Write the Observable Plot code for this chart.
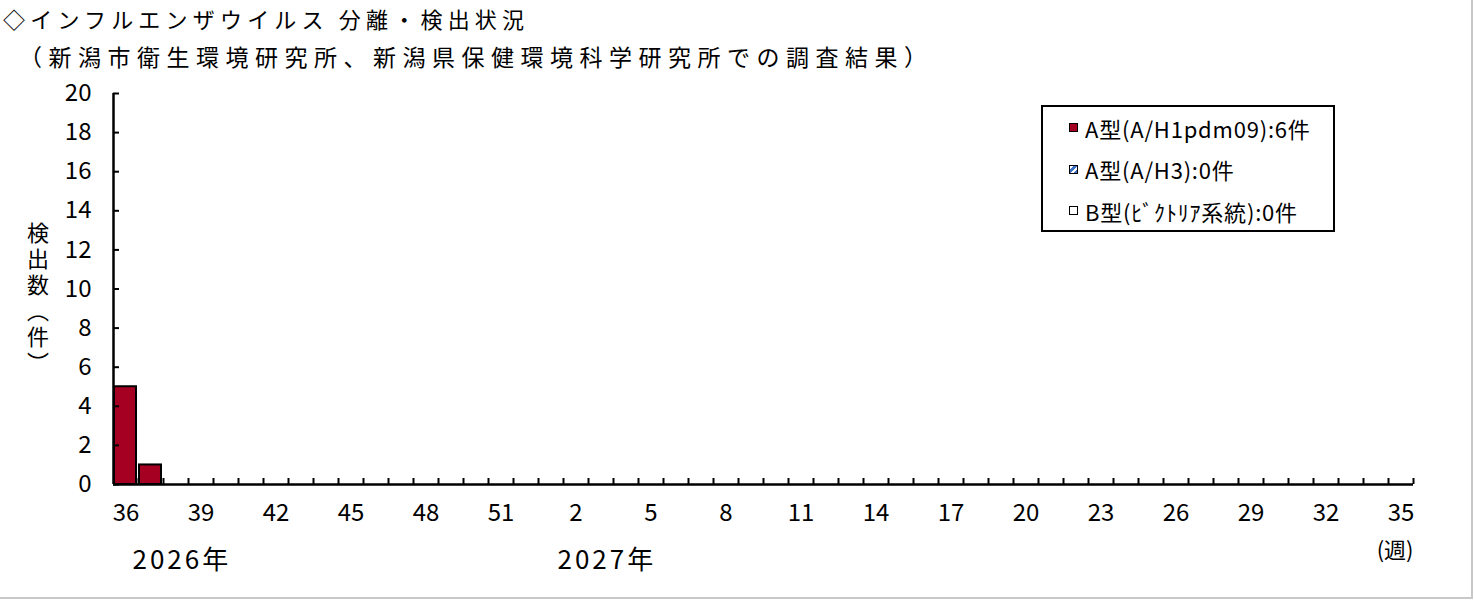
<!DOCTYPE html>
<html><head><meta charset="utf-8">
<script src="https://cdn.jsdelivr.net/npm/d3@7"></script>
<script src="https://cdn.jsdelivr.net/npm/@observablehq/plot@0.6"></script>
<style>
body{margin:0;background:#fff;font-family:"Noto Sans CJK JP",sans-serif;color:#000;}
#wrap{position:relative;width:1471px;height:597px;border-right:2px solid #c8c8c8;border-bottom:2px solid #c8c8c8;background:#fff;overflow:hidden}
.t1{height:36px;line-height:36px;font-size:22px;letter-spacing:5.2px;padding-left:3px;white-space:nowrap}
.t2{height:42px;line-height:40px;font-size:23px;letter-spacing:6.5px;padding-left:19px;white-space:nowrap}
#ylab{position:absolute;left:27px;top:222px;width:22px;writing-mode:vertical-rl;font-size:22px;line-height:22px;letter-spacing:4px}
#legend{position:absolute;left:1041px;top:105px;width:290px;height:123px;border:2px solid #000;background:#fff;padding-top:0px;box-sizing:content-box}
.row{height:41.5px;display:flex;align-items:center;padding-left:26px;font-size:22px;letter-spacing:0.8px;white-space:nowrap}
.mk{width:7px;height:7px;border:1.5px solid #000;margin-right:7px;flex:none}
#chart svg{display:block}
.years text{letter-spacing:3px}
</style></head>
<body>
<div id="wrap">
  <div class="t1">◇インフルエンザウイルス 分離・検出状況</div>
  <div class="t2">（新潟市衛生環境研究所、新潟県保健環境科学研究所での調査結果）</div>
  <div id="chart"></div>
  <div id="ylab">検出数（件）</div>
  <div id="legend"></div>
</div>
<script>
const weeks = [36,37,38,39,40,41,42,43,44,45,46,47,48,49,50,51,52,1,2,3,4,5,6,7,8,9,10,11,12,13,14,15,16,17,18,19,20,21,22,23,24,25,26,27,28,29,30,31,32,33,34,35];
const seriesNames = ["A型(A/H1pdm09)", "A型(A/H3)", "B型(ﾋﾞｸﾄﾘｱ系統)"];
const countsH1 = [5,1,0,0,0,0,0,0,0,0,0,0,0,0,0,0,0,0,0,0,0,0,0,0,0,0,0,0,0,0,0,0,0,0,0,0,0,0,0,0,0,0,0,0,0,0,0,0,0,0,0,0];
const countsH3 = [0,0,0,0,0,0,0,0,0,0,0,0,0,0,0,0,0,0,0,0,0,0,0,0,0,0,0,0,0,0,0,0,0,0,0,0,0,0,0,0,0,0,0,0,0,0,0,0,0,0,0,0];
const countsB  = [0,0,0,0,0,0,0,0,0,0,0,0,0,0,0,0,0,0,0,0,0,0,0,0,0,0,0,0,0,0,0,0,0,0,0,0,0,0,0,0,0,0,0,0,0,0,0,0,0,0,0,0];
const yTicks = [0,2,4,6,8,10,12,14,16,18,20];
const xLabelWeeks = [36,39,42,45,48,51,2,5,8,11,14,17,20,23,26,29,32,35];
const yearLabels = ["2026年","2027年"];
const yearFirstWeeks = [36,1];
const colors = ["#a50021","#3a6fc4","#ffffff"];

const seriesValues = [countsH1, countsH3, countsB];
const rows = [];
seriesValues.forEach((vals, s) => vals.forEach((v, i) => rows.push({i, week: weeks[i], series: seriesNames[s], v})));

const chart = Plot.plot({
  width: 1471, height: 519,
  marginTop: 15, marginBottom: 113, marginLeft: 113, marginRight: 58,
  style: {fontFamily: '"Noto Sans CJK JP", sans-serif', fontSize: "24px", color: "#000", background: "transparent", overflow: "visible"},
  x: {domain: [0, weeks.length], axis: null},
  y: {domain: [0, 20], axis: null},
  color: {domain: seriesNames, range: colors},
  marks: [
    Plot.rectY(rows, {filter: d => d.v > 0, x: "i", interval: 1, y: "v", fill: "series", stroke: "#000", strokeWidth: 2, insetLeft: 1, insetRight: 2}),
    Plot.ruleX(d3.range(1, weeks.length + 1), {y1: 0, y2: 0, insetTop: -6, strokeWidth: 2}),
    Plot.ruleY(yTicks, {x1: 0, x2: 0, insetRight: -6, strokeWidth: 2}),
    Plot.ruleX([0], {strokeWidth: 2.5}),
    Plot.ruleY([0], {strokeWidth: 2.5}),
    Plot.axisY({ticks: yTicks, tickSize: 0, tickPadding: 22, label: null, fontSize: 24}),
    Plot.axisX({ticks: xLabelWeeks.map(w => weeks.indexOf(w) + 0.5), tickFormat: v => String(weeks[Math.floor(v)]), tickSize: 0, tickPadding: 19, label: null, fontSize: 24}),
    Plot.text(yearLabels, {x: (d, k) => weeks.indexOf(yearFirstWeeks[k]), frameAnchor: "bottom", lineAnchor: "top", textAnchor: "start", dx: 19, dy: 66, fontSize: 26, className: "years"}),
    Plot.text(["(週)"], {frameAnchor: "bottom-right", lineAnchor: "top", textAnchor: "end", dy: 58, fontSize: 22})
  ]
});
document.getElementById("chart").appendChild(chart);

const legend = document.getElementById("legend");
seriesNames.forEach((name, s) => {
  const total = d3.sum(seriesValues[s]);
  const row = document.createElement("div");
  row.className = "row";
  const mk = document.createElement("span");
  mk.className = "mk";
  if (s === 1) mk.style.background = "linear-gradient(135deg,#fff 25%," + colors[1] + " 25% 50%,#fff 50% 75%," + colors[1] + " 75%)";
  else mk.style.background = colors[s];
  const tx = document.createElement("span");
  tx.textContent = name + ":" + total + "件";
  row.appendChild(mk); row.appendChild(tx);
  legend.appendChild(row);
});
</script>
</body></html>
